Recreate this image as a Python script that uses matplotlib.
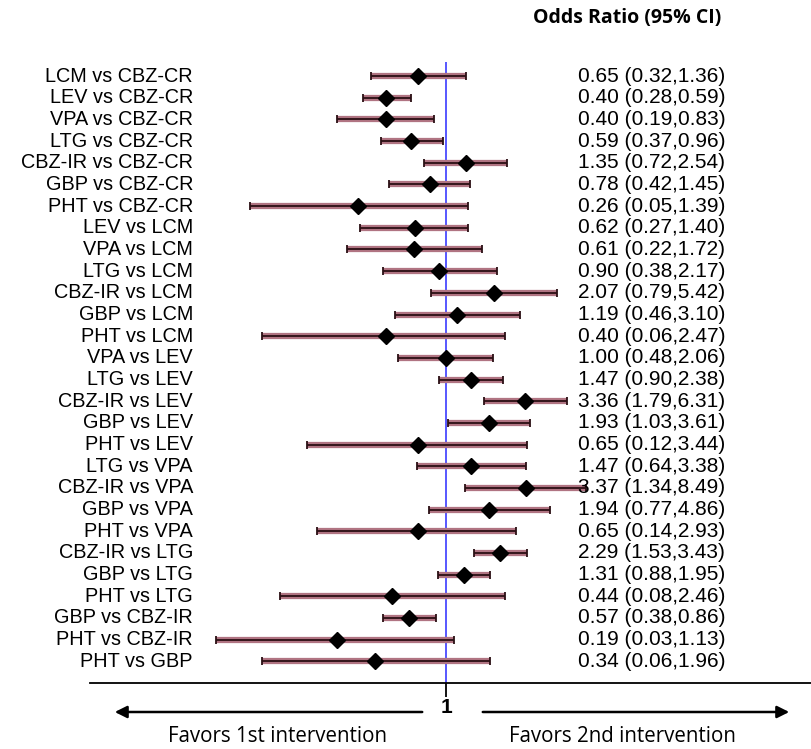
import numpy as np
import matplotlib.pyplot as plt

plt.rcParams['font.family'] = ['Liberation Sans', 'DejaVu Sans']

# comparisons, top to bottom
labels = ['LCM vs CBZ-CR', 'LEV vs CBZ-CR', 'VPA vs CBZ-CR', 'LTG vs CBZ-CR',
          'CBZ-IR vs CBZ-CR', 'GBP vs CBZ-CR', 'PHT vs CBZ-CR', 'LEV vs LCM',
          'VPA vs LCM', 'LTG vs LCM', 'CBZ-IR vs LCM', 'GBP vs LCM', 'PHT vs LCM',
          'VPA vs LEV', 'LTG vs LEV', 'CBZ-IR vs LEV', 'GBP vs LEV', 'PHT vs LEV',
          'LTG vs VPA', 'CBZ-IR vs VPA', 'GBP vs VPA', 'PHT vs VPA',
          'CBZ-IR vs LTG', 'GBP vs LTG', 'PHT vs LTG', 'GBP vs CBZ-IR',
          'PHT vs CBZ-IR', 'PHT vs GBP']
odds = [0.65, 0.40, 0.40, 0.59, 1.35, 0.78, 0.26, 0.62, 0.61, 0.90, 2.07, 1.19,
        0.40, 1.00, 1.47, 3.36, 1.93, 0.65, 1.47, 3.37, 1.94, 0.65, 2.29, 1.31,
        0.44, 0.57, 0.19, 0.34]
ci_low = [0.32, 0.28, 0.19, 0.37, 0.72, 0.42, 0.05, 0.27, 0.22, 0.38, 0.79, 0.46,
          0.06, 0.48, 0.90, 1.79, 1.03, 0.12, 0.64, 1.34, 0.77, 0.14, 1.53, 0.88,
          0.08, 0.38, 0.03, 0.06]
ci_high = [1.36, 0.59, 0.83, 0.96, 2.54, 1.45, 1.39, 1.40, 1.72, 2.17, 5.42, 3.10,
           2.47, 2.06, 2.38, 6.31, 3.61, 3.44, 3.38, 8.49, 4.86, 2.93, 3.43, 1.95,
           2.46, 0.86, 1.13, 1.96]

W, H = 811, 749
fig = plt.figure(figsize=(W / 100, H / 100), dpi=100)
ax = fig.add_axes([90 / W, 1 - 683 / H, 1 - 90 / W, (683 - 62) / H])

y = np.arange(len(labels))
odds = np.array(odds)
lo = np.array(ci_low)
hi = np.array(ci_high)

# confidence intervals: pink band with dark core
ax.hlines(y, lo, hi, color='#b07482', lw=4.5, zorder=2)
ax.hlines(y, lo, hi, color='#2a0f14', lw=1.3, zorder=3)
ax.errorbar(odds, y, xerr=[odds - lo, hi - odds], fmt='none', ecolor='#2a0f14',
            elinewidth=0, capsize=3, capthick=1.3, zorder=3)
ax.plot(odds, y, 'D', color='black', markersize=8.5, zorder=4)

ax.axvline(1, color='#4a4aff', lw=1.3, zorder=1)

ax.set_xscale('log')
ppd = 151.0  # pixels per decade
ax.set_xlim(10 ** (-(446 - 90) / ppd), 10 ** ((811 - 446) / ppd))
ax.set_ylim(28.0, -0.65)

for s in ['top', 'right', 'left']:
    ax.spines[s].set_visible(False)
ax.spines['bottom'].set_linewidth(1.3)
ax.set_yticks([])
ax.set_xticks([1])
ax.set_xticklabels(['1'], fontsize=15, fontweight='bold')
ax.xaxis.set_minor_locator(plt.NullLocator())
ax.tick_params(axis='x', length=10, width=1.3, pad=1)

trans = ax.get_yaxis_transform()
for i in range(len(labels)):
    ax.text((193 - 90) / (W - 90), y[i], labels[i], transform=trans,
            ha='right', va='center', fontsize=14.3)
    ax.text((578 - 90) / (W - 90), y[i],
            f'{odds[i]:.2f} ({lo[i]:.2f},{hi[i]:.2f})', transform=trans,
            ha='left', va='center', fontsize=15)

fig.text(627 / W, 1 - 18 / H, 'Odds Ratio (95% CI)', ha='center', va='center',
         fontsize=14, fontweight='bold', family=['Open Sans', 'DejaVu Sans'])

# arrows under the axis
ya = 1 - 712 / H
ax.annotate('', xy=(112 / W, ya), xytext=(425 / W, ya), xycoords='figure fraction',
            textcoords='figure fraction',
            arrowprops=dict(arrowstyle='-|>', color='black', lw=1.8, mutation_scale=18))
ax.annotate('', xy=(792 / W, ya), xytext=(480 / W, ya), xycoords='figure fraction',
            textcoords='figure fraction',
            arrowprops=dict(arrowstyle='-|>', color='black', lw=1.8, mutation_scale=18))

fig.text(278 / W, 1 - 736 / H, 'Favors 1st intervention', ha='center', va='center',
         fontsize=14.8, family=['Open Sans', 'DejaVu Sans'])
fig.text(622 / W, 1 - 736 / H, 'Favors 2nd intervention', ha='center', va='center',
         fontsize=14.8, family=['Open Sans', 'DejaVu Sans'])

fig.savefig('out.png', dpi=100)
